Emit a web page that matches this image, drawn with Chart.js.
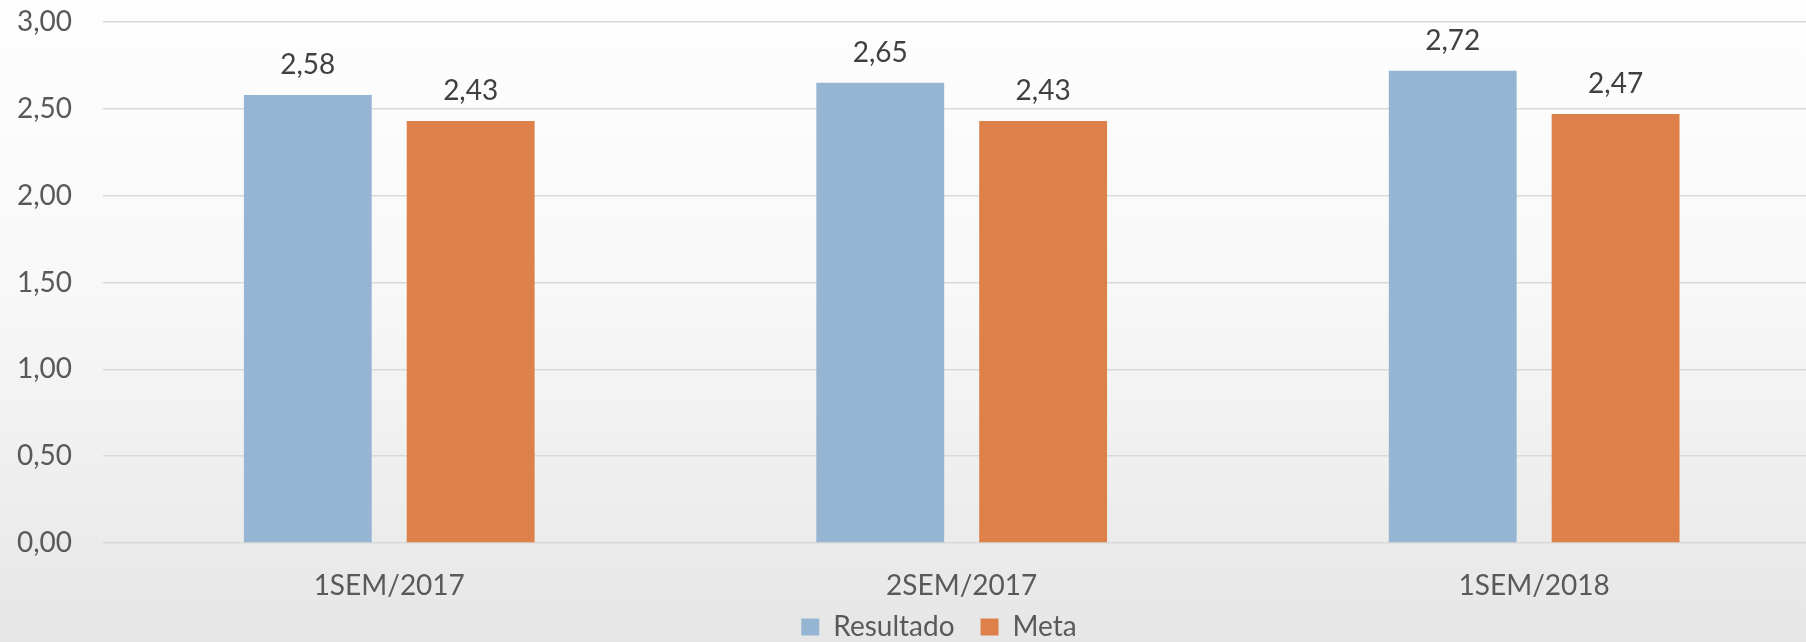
<!DOCTYPE html>
<html>
<head>
<meta charset="utf-8">
<script src="https://cdn.jsdelivr.net/npm/chart.js@4/dist/chart.umd.min.js"></script>
<style>
  html, body { margin: 0; padding: 0; overflow: hidden; }
  body { width: 1806px; height: 642px; background: linear-gradient(to bottom, #fefefe 0%, #f8f8f8 45%, #e6e6e6 100%); }
  #wrap { position: relative; width: 1878px; height: 651px; }
</style>
</head>
<body>
<div id="wrap"><canvas id="c"></canvas></div>
<script>
// semestres e valores (resultado vs meta)
const categorias = ["1SEM/2017", "2SEM/2017", "1SEM/2018"];
const resultado = [2.58, 2.65, 2.72];
const meta = [2.43, 2.43, 2.47];
const yTicks = [0, 0.5, 1, 1.5, 2, 2.5, 3];

const FONT = "Lato, 'Open Sans', sans-serif";
const fmt = (v) => v.toFixed(2).replace(".", ",");

// rótulos de valor acima das barras
const valueLabels = {
  id: "valueLabels",
  beforeDraw(chart) {
    // não cortar os rótulos do eixo x na caixa do eixo
    chart.scales.x._computeLabelArea = () => undefined;
  },
  afterDatasetsDraw(chart) {
    const ctx = chart.ctx;
    ctx.save();
    ctx.font = `28px ${FONT}`;
    ctx.fillStyle = "#404040";
    ctx.textAlign = "center";
    ctx.textBaseline = "alphabetic";
    chart.data.datasets.forEach((ds, i) => {
      chart.getDatasetMeta(i).data.forEach((bar, j) => {
        ctx.fillText(fmt(ds.data[j]), bar.x, bar.y - 21);
      });
    });
    ctx.restore();
  },
};

new Chart(document.getElementById("c"), {
  type: "bar",
  data: {
    labels: categorias,
    datasets: [
      { label: "Resultado", data: resultado, backgroundColor: "#95b5d3", categoryPercentage: 0.569, barPercentage: 0.785 },
      { label: "Meta", data: meta, backgroundColor: "#dd8049", categoryPercentage: 0.569, barPercentage: 0.785 },
    ],
  },
  options: {
    responsive: true,
    maintainAspectRatio: false,
    animation: false,
    layout: { padding: { top: 22, left: 0, right: 0, bottom: 0 } },
    plugins: {
      legend: {
        position: "bottom",
        labels: { font: { family: FONT, size: 28 }, color: "#595959", boxWidth: 18, boxHeight: 17, padding: 26 },
      },
      tooltip: { enabled: false },
    },
    scales: {
      x: {
        grid: { display: false },
        border: { display: false },
        ticks: { color: "#595959", font: { family: FONT, size: 28 }, padding: 18 },
        afterFit: (s) => { s.height = 44; },
      },
      y: {
        min: 0, max: 3,
        afterBuildTicks: (s) => { s.ticks = yTicks.map((v) => ({ value: v })); },
        grid: { color: "#d9d9d9", lineWidth: 1.5, drawTicks: false },
        border: { display: false },
        ticks: { color: "#595959", font: { family: FONT, size: 28 }, padding: 31, callback: (v) => fmt(v) },
        afterFit: (s) => { s.width = 103; s.paddingTop = 0; s.paddingBottom = 0; },
      },
      y2: {
        position: "right",
        display: true,
        grid: { display: false, drawTicks: false },
        border: { display: false },
        ticks: { display: false },
        afterFit: (s) => { s.width = 57.6; },
      },
    },
  },
  plugins: [valueLabels],
});
</script>
</body>
</html>
